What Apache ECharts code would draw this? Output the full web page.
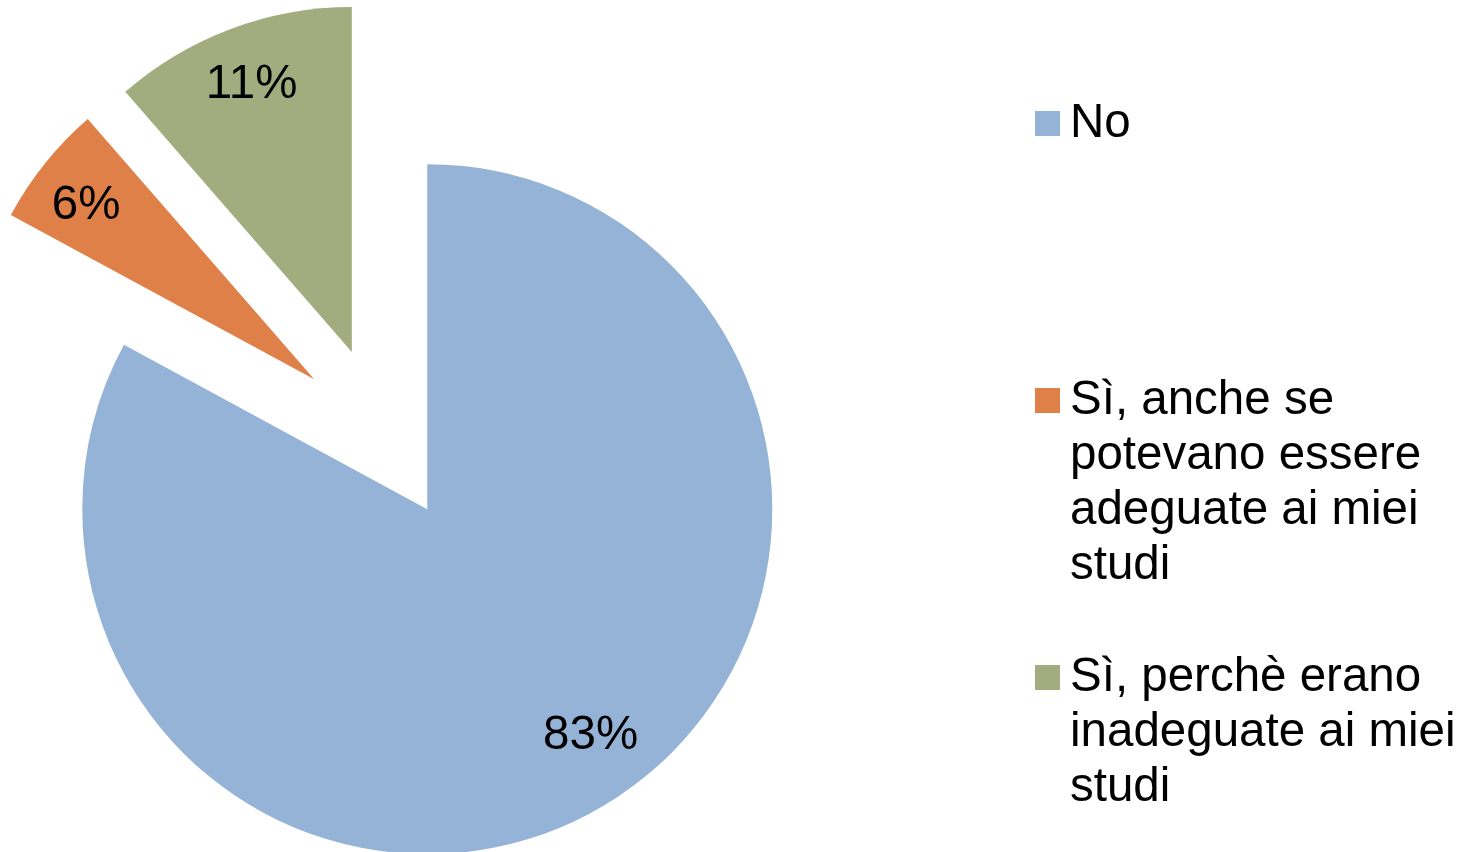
<!DOCTYPE html>
<html>
<head>
<meta charset="utf-8">
<script src="https://cdn.jsdelivr.net/npm/echarts@6/dist/echarts.min.js"></script>
<style>
  html, body { margin: 0; padding: 0; background: #ffffff; }
  #chart { width: 1478px; height: 852px; }
</style>
</head>
<body>
<div id="chart"></div>
<script>
// ---- data ----
const categories = [
  'No',
  'Sì, anche se potevano essere adeguate ai miei studi',
  'Sì, perchè erano inadeguate ai miei studi'
];
const legendLines = [
  ['No'],
  ['Sì, anche se', 'potevano essere', 'adeguate ai miei', 'studi'],
  ['Sì, perchè erano', 'inadeguate ai miei', 'studi']
];
const shares = [82.9, 5.7, 11.4];
const colors = ['#95B3D7', '#DF8049', '#A3AC7E'];

// ---- layout / style ----
const FONT = 'Liberation Sans, Arial, sans-serif';
const FS = 47.5;
const LH = 55;
const PADT = 7;
const R = 345;
const CENTER = [382.5, 434];
const OFFSET = 87.5;
const legendIconTops = [111, 388, 665];
const labelNudge = [[17, -19], [-5, 5], [0, 1]];

const chart = echarts.init(document.getElementById('chart'), null, { renderer: 'canvas' });

const sliceData = categories.map((name, i) => ({
  name: name,
  value: shares[i],
  selected: true,
  itemStyle: { color: colors[i] }
}));

const labelData = categories.map((name, i) => ({
  name: name,
  value: shares[i],
  selected: true,
  itemStyle: { color: 'rgba(0,0,0,0)' }
}));

const legends = categories.map((name, i) => {
  const n = legendLines[i].length;
  const rectTop = 12.5 - ((2 * n - 1) * LH + PADT) / 2;
  // leading blank lines keep the first text line level with the icon
  const text = new Array(n - 1).fill('').concat(legendLines[i]).join('\n');
  return {
    orient: 'vertical',
    left: 1035,
    top: legendIconTops[i] + rectTop,
    padding: 0,
    itemWidth: 25,
    itemHeight: 25,
    itemGap: 0,
    icon: 'rect',
    selectedMode: false,
    data: [name],
    formatter: () => text,
    textStyle: {
      color: '#000000',
      fontFamily: FONT,
      fontSize: FS,
      lineHeight: LH,
      padding: [PADT, 0, 0, 5]
    }
  };
});

chart.setOption({
  animation: false,
  backgroundColor: '#ffffff',
  legend: legends,
  series: [
    {
      type: 'pie',
      center: CENTER,
      radius: [0, R],
      startAngle: 90,
      clockwise: true,
      selectedMode: 'multiple',
      selectedOffset: OFFSET,
      avoidLabelOverlap: false,
      label: { show: false },
      labelLine: { show: false },
      emphasis: { disabled: true },
      data: sliceData
    },
    {
      type: 'pie',
      center: CENTER,
      radius: [R * 0.64, R],
      startAngle: 90,
      clockwise: true,
      silent: true,
      legendHoverLink: false,
      selectedMode: 'multiple',
      selectedOffset: OFFSET,
      avoidLabelOverlap: false,
      label: {
        show: true,
        position: 'inside',
        color: '#000000',
        fontFamily: FONT,
        fontSize: FS,
        formatter: p => Math.round(p.percent) + '%'
      },
      labelLayout: p => ({ dx: labelNudge[p.dataIndex][0], dy: labelNudge[p.dataIndex][1] }),
      labelLine: { show: false },
      emphasis: { disabled: true },
      data: labelData
    }
  ]
});
</script>
</body>
</html>
